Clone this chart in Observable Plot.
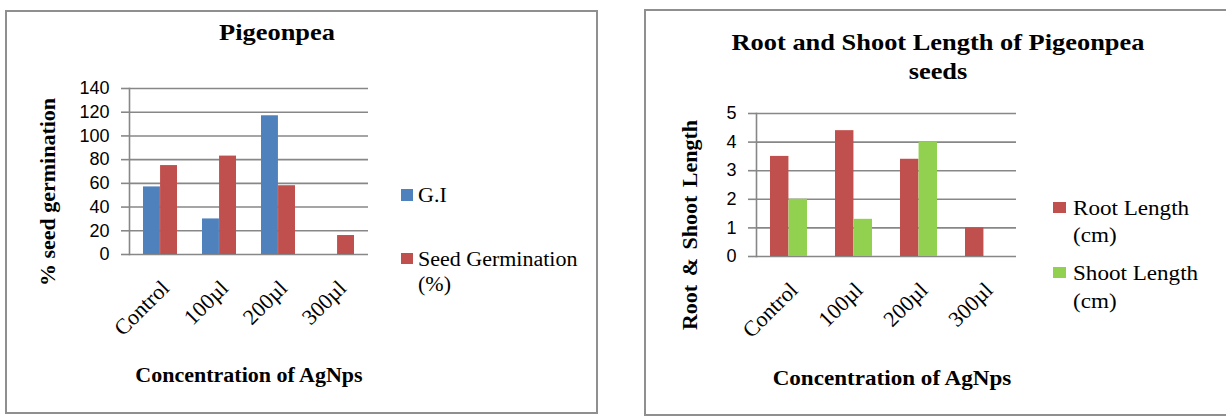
<!DOCTYPE html>
<html><head><meta charset="utf-8">
<script src="https://cdn.jsdelivr.net/npm/d3@7"></script>
<script src="https://cdn.jsdelivr.net/npm/@observablehq/plot@0.6"></script>
<style>
body{margin:0;background:#fff;}
#page{position:relative;width:1226px;height:417px;overflow:hidden;background:#fff;font-family:"Liberation Serif","Times New Roman",serif;color:#000;}
.panel{position:absolute;border:2px solid #8f8f8f;box-sizing:border-box;}
.t{position:absolute;white-space:nowrap;line-height:1;}
.c{transform:translate(-50%,-50%) scaleX(1.1);text-align:center;}
.b{font-weight:bold;}
.leg{transform-origin:left top;transform:scaleX(1.1);font-size:20px;}
.sw{position:absolute;}
</style></head><body><div id="page"></div>
<script>
const concentrations = ["Control", "100µl", "200µl", "300µl"];
const giValues = [57, 30, 117, 0];
const germinationValues = [75, 83, 58, 16];
const rootLengths = [3.5, 4.4, 3.4, 1.0];
const shootLengths = [2.0, 1.3, 4.0, 0];
const germTicks = [0, 20, 40, 60, 80, 100, 120, 140];
const lengthTicks = [0, 1, 2, 3, 4, 5];

const colors = {gi: "#4F81BD", germ: "#C0504D", root: "#C0504D", shoot: "#92D050"};
const gridColor = "#878787";
const serif = "Liberation Serif, Times New Roman, serif";
const sans = "Liberation Sans, Arial, sans-serif";

function groupedBars({width, height, margins, yDomain, ticks, a, b, colorA, colorB}) {
  const pIn = 1.5 / 3.5, pOut = pIn / 2;
  const plotW = width - margins.left - margins.right;
  const half = plotW / concentrations.length * (1 - pIn) / 2;
  const rowsA = concentrations.map((c, i) => ({c, v: a[i]}));
  const rowsB = concentrations.map((c, i) => ({c, v: b[i]}));
  return Plot.plot({
    width, height,
    marginLeft: margins.left, marginRight: margins.right,
    marginTop: margins.top, marginBottom: margins.bottom,
    style: {background: "transparent", overflow: "visible", color: "#000", position: "absolute", top: "0px", maxWidth: "none"},
    x: {domain: concentrations, paddingInner: pIn, paddingOuter: pOut, label: null},
    y: {domain: yDomain, label: null},
    marks: [
      Plot.gridY(ticks, {stroke: gridColor, strokeOpacity: 1, strokeWidth: 1.6}),
      Plot.barY(rowsA, {x: "c", y: "v", fill: colorA, insetRight: half}),
      Plot.barY(rowsB, {x: "c", y: "v", fill: colorB, insetLeft: half}),
      Plot.frame({anchor: "left", stroke: gridColor, strokeWidth: 1.6}),
      Plot.axisY(ticks, {tickSize: 8, tickPadding: 12, stroke: gridColor, strokeWidth: 1.6, fill: "#000",
        fontSize: 18, fontFamily: sans, tickFormat: d => String(d), label: null}),
      Plot.axisX({tickSize: 0, tickRotate: -45, tickPadding: 8, dx: 5, dy: 22, fontSize: 22, fontFamily: serif,
        fill: "#000", label: null})
    ]
  });
}

const page = document.getElementById("page");
function add(html) { page.insertAdjacentHTML("beforeend", html); }

add('<div class="panel" style="left:5px;top:10px;width:593px;height:404px"></div>');
add('<div class="panel" style="left:644px;top:9px;width:590px;height:407px"></div>');

const left = groupedBars({width: 600, height: 417, margins: {left: 129, right: 232, top: 88, bottom: 163},
  yDomain: [0, 140], ticks: germTicks, a: giValues, b: germinationValues, colorA: colors.gi, colorB: colors.germ});
left.style.left = "0px";
page.appendChild(left);

const right = groupedBars({width: 586, height: 417, margins: {left: 116, right: 210, top: 113, bottom: 161},
  yDomain: [0, 5], ticks: lengthTicks, a: rootLengths, b: shootLengths, colorA: colors.root, colorB: colors.shoot});
right.style.left = "640px";
page.appendChild(right);

// titles
add('<div class="t c b" style="left:277px;top:32px;font-size:24px">Pigeonpea</div>');
add('<div class="t c b" style="left:938px;top:57px;font-size:24px;line-height:29px">Root and Shoot Length of Pigeonpea<br>seeds</div>');
// axis titles
add('<div class="t c b" style="left:249px;top:375px;font-size:20px">Concentration of AgNps</div>');
add('<div class="t c b" style="left:892px;top:378px;font-size:21px">Concentration of AgNps</div>');
add('<div class="t b" style="left:48px;top:192px;font-size:22px;transform:translate(-50%,-50%) rotate(-90deg)">% seed germination</div>');
add('<div class="t b" style="left:690px;top:225px;font-size:22px;word-spacing:3px;transform:translate(-50%,-50%) rotate(-90deg)">Root &amp; Shoot Length</div>');
// legends
add(`<div class="sw" style="left:401px;top:189px;width:12px;height:12px;background:${colors.gi}"></div>`);
add('<div class="t leg" style="left:418px;top:185px">G.I</div>');
add(`<div class="sw" style="left:401px;top:253px;width:12px;height:11px;background:${colors.germ}"></div>`);
add('<div class="t leg" style="left:418px;top:247px;line-height:25px">Seed Germination<br>(%)</div>');
add(`<div class="sw" style="left:1053px;top:202px;width:13px;height:11px;background:${colors.root}"></div>`);
add('<div class="t leg" style="left:1073px;top:195px;line-height:27px;font-size:21px">Root Length<br>(cm)</div>');
add(`<div class="sw" style="left:1053px;top:267px;width:13px;height:11px;background:${colors.shoot}"></div>`);
add('<div class="t leg" style="left:1073px;top:259px;line-height:28px;font-size:21px">Shoot Length<br>(cm)</div>');
</script></body></html>
